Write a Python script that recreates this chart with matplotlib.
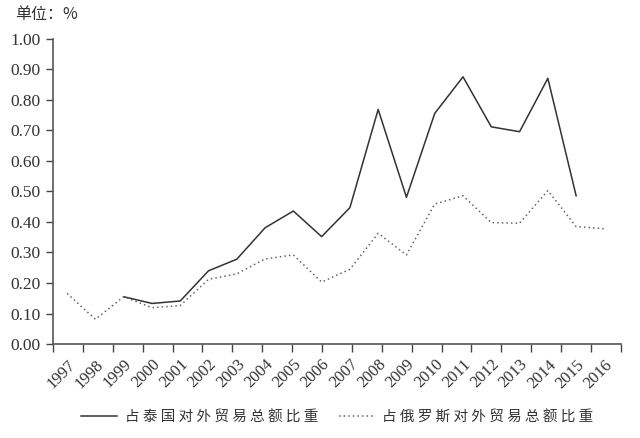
import numpy as np
import matplotlib.pyplot as plt

plt.rcParams['font.family'] = ['Liberation Serif', 'Noto Sans CJK SC', 'DejaVu Sans']

# 数据
years = [str(y) for y in range(1997, 2017)]
thai = [None, None, 0.155, 0.133, 0.141, 0.240, 0.278, 0.381, 0.436, 0.352,
        0.447, 0.769, 0.481, 0.756, 0.876, 0.712, 0.696, 0.871, 0.486, None]
russia = [0.166, 0.081, 0.155, 0.119, 0.126, 0.212, 0.230, 0.279, 0.292, 0.203,
          0.245, 0.363, 0.292, 0.459, 0.486, 0.398, 0.396, 0.503, 0.385, 0.378]
yticks = [0.0, 0.1, 0.2, 0.3, 0.4, 0.5, 0.6, 0.7, 0.8, 0.9, 1.0]

x = np.arange(len(years))
thai_y = np.array([np.nan if v is None else v for v in thai])
russia_y = np.array(russia)

fig = plt.figure(figsize=(6.4, 4.38), dpi=100)
ax = fig.add_axes([0.083, 0.2146, 0.887, 0.6964])

ax.plot(x, thai_y, color='#333333', lw=1.1, linestyle='-',
        label='占 泰 国 对 外 贸 易 总 额 比 重')
ax.plot(x, russia_y, color='#666666', lw=1.1, linestyle=(0, (1, 2)),
        label='占 俄 罗 斯 对 外 贸 易 总 额 比 重')

ax.set_ylim(0, 1.0)
ax.set_xlim(-0.495, 19.58)

# 刻度
ax.set_yticks(yticks)
ax.set_yticklabels(['%.2f' % v for v in yticks])
bounds = -0.495 + np.arange(20) * 1.0565
ax.set_xticks(bounds)
ax.set_xticklabels([])
ax.set_xticks(x, minor=True)
ax.set_xticklabels(years, minor=True, rotation=45, ha='right',
                   rotation_mode='anchor')
ax.tick_params(axis='x', which='minor', length=0, pad=9)
ax.tick_params(axis='x', which='major', length=6, width=1, color='#444444', direction='out')
ax.tick_params(axis='y', length=5, width=1, color='#444444', direction='out', pad=4)
ax.tick_params(labelsize=12.5, labelcolor='#333333')
for lab in ax.get_xticklabels(minor=True):
    lab.set_fontsize(12)
    lab.set_color('#333333')

for s in ['top', 'right']:
    ax.spines[s].set_visible(False)
for s in ['left', 'bottom']:
    ax.spines[s].set_color('#555555')
    ax.spines[s].set_linewidth(1.2)

fig.text(0.023, 0.968, '单位：%', fontsize=11.5, color='#333333', va='center',
         family=['Noto Sans CJK SC', 'DejaVu Sans'])

leg = ax.legend(loc='center', bbox_to_anchor=(0.527, 0.047),
                bbox_transform=fig.transFigure, ncol=2, frameon=False,
                handlelength=2.5, columnspacing=1.4, handletextpad=0.5,
                prop={'family': ['Noto Sans CJK SC', 'DejaVu Sans'], 'size': 10.5})
for t in leg.get_texts():
    t.set_color('#333333')

plt.savefig('out.png', dpi=100)
